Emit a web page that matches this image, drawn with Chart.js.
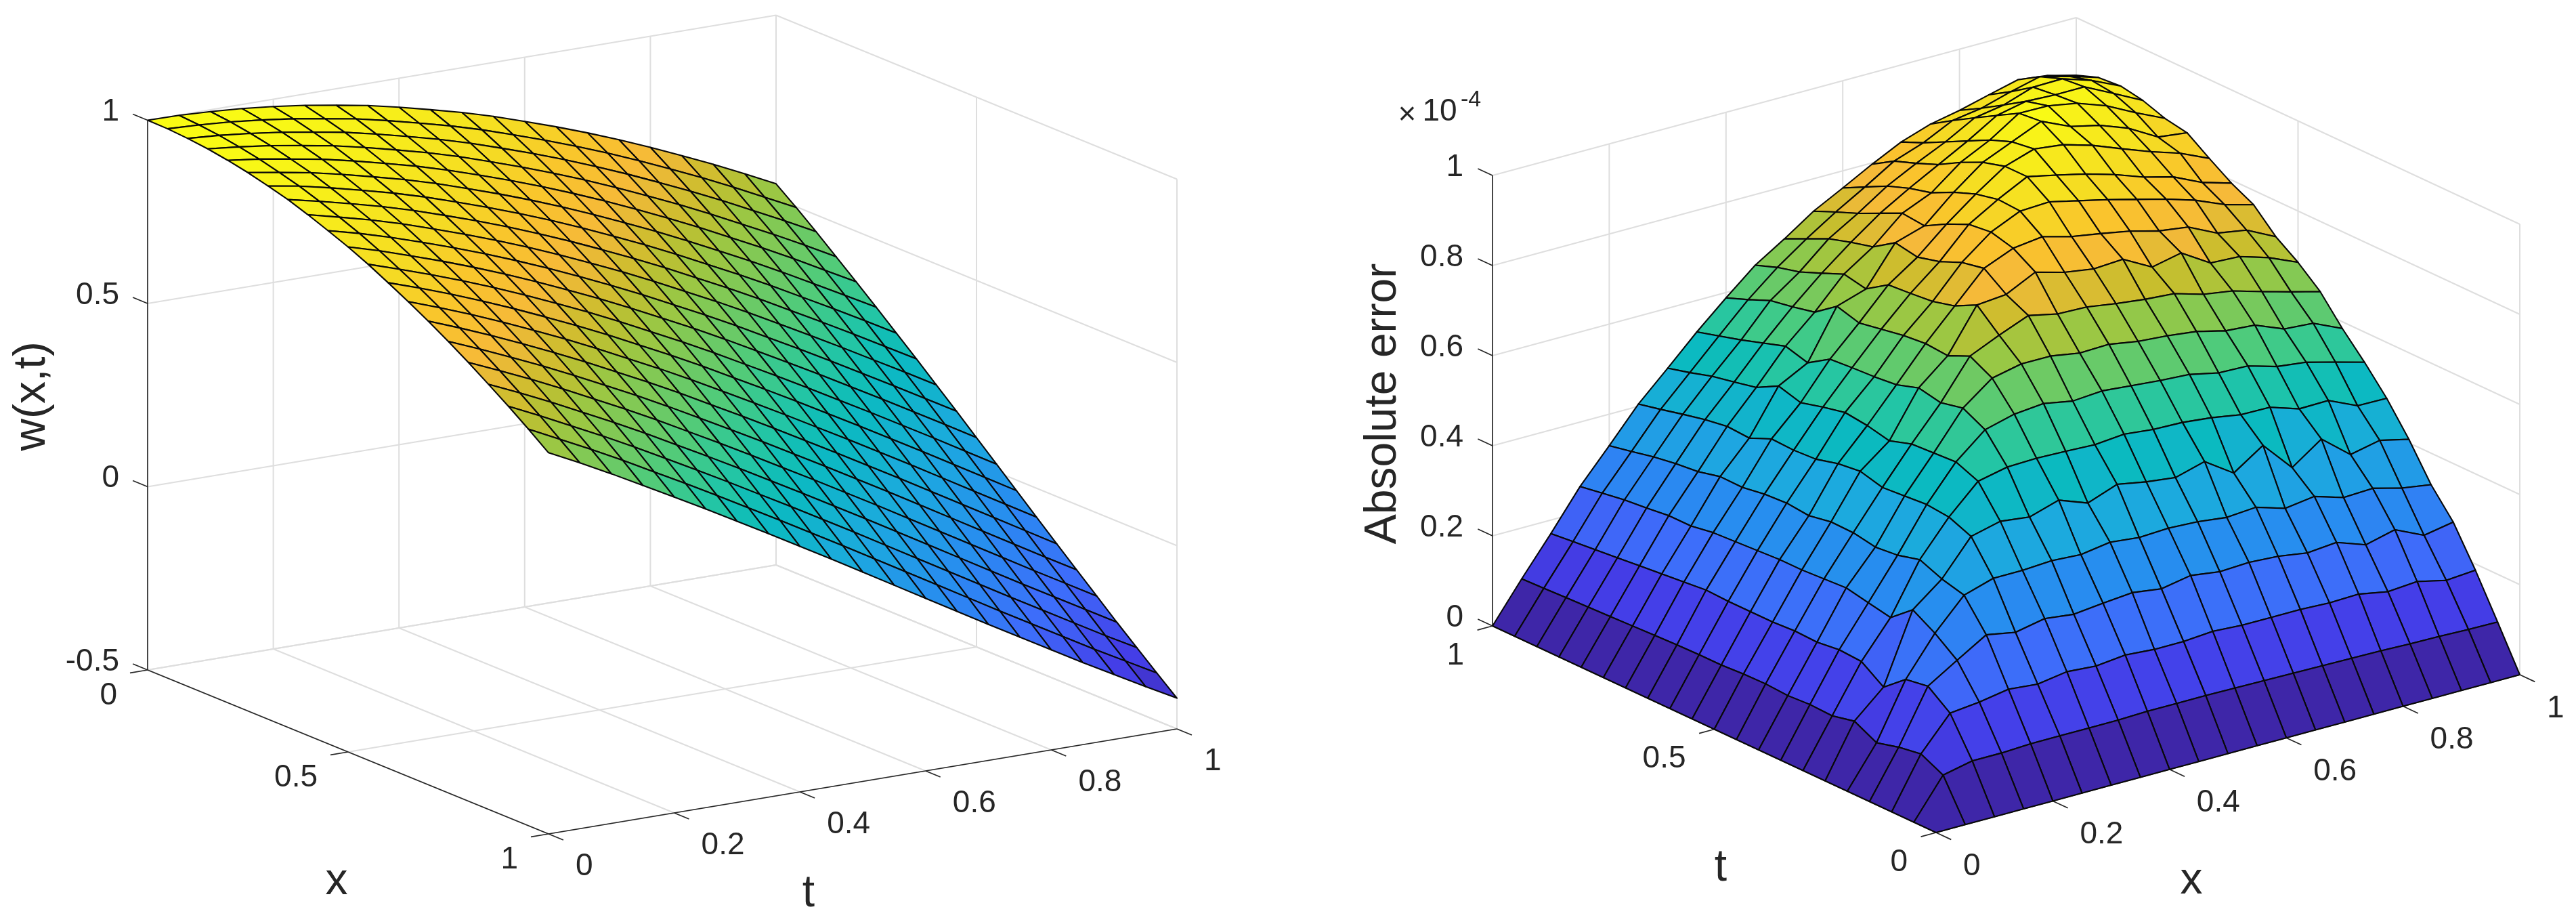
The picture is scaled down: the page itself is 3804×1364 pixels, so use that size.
<!DOCTYPE html>
<html><head><meta charset="utf-8">
<style>html,body{margin:0;padding:0;background:#fff;width:3804px;height:1364px;overflow:hidden}
canvas{position:absolute;top:0}</style>
<script src="https://cdn.jsdelivr.net/npm/chart.js@4/dist/chart.umd.min.js"></script>
</head><body>
<canvas id="left" width="1900" height="1364" style="left:0;width:1900px;height:1364px"></canvas>
<canvas id="right" width="1904" height="1364" style="left:1900px;width:1904px;height:1364px"></canvas>
<script>
const gridX=[0,.05,.1,.15,.2,.25,.3,.35,.4,.45,.5,.55,.6,.65,.7,.75,.8,.85,.9,.95,1];
const gridT=[0,.05,.1,.15,.2,.25,.3,.35,.4,.45,.5,.55,.6,.65,.7,.75,.8,.85,.9,.95,1];

// w(x,t): one row per x, one column per t
const wValues=[
[1,.999,.995,.989,.98,.969,.955,.94,.921,.9,.878,.853,.825,.796,.765,.732,.697,.66,.622,.582,.54],
[.999,.995,.989,.98,.969,.955,.94,.921,.9,.878,.853,.825,.796,.765,.732,.697,.66,.622,.582,.54,.498],
[.995,.989,.98,.969,.955,.94,.921,.9,.878,.853,.825,.796,.765,.732,.697,.66,.622,.582,.54,.498,.454],
[.989,.98,.969,.955,.94,.921,.9,.878,.853,.825,.796,.765,.732,.697,.66,.622,.582,.54,.498,.454,.408],
[.98,.969,.955,.94,.921,.9,.878,.853,.825,.796,.765,.732,.697,.66,.622,.582,.54,.498,.454,.408,.362],
[.969,.955,.94,.921,.9,.878,.853,.825,.796,.765,.732,.697,.66,.622,.582,.54,.498,.454,.408,.362,.315],
[.955,.94,.921,.9,.878,.853,.825,.796,.765,.732,.697,.66,.622,.582,.54,.498,.454,.408,.362,.315,.267],
[.94,.921,.9,.878,.853,.825,.796,.765,.732,.697,.66,.622,.582,.54,.498,.454,.408,.362,.315,.267,.219],
[.921,.9,.878,.853,.825,.796,.765,.732,.697,.66,.622,.582,.54,.498,.454,.408,.362,.315,.267,.219,.17],
[.9,.878,.853,.825,.796,.765,.732,.697,.66,.622,.582,.54,.498,.454,.408,.362,.315,.267,.219,.17,.121],
[.878,.853,.825,.796,.765,.732,.697,.66,.622,.582,.54,.498,.454,.408,.362,.315,.267,.219,.17,.121,.071],
[.853,.825,.796,.765,.732,.697,.66,.622,.582,.54,.498,.454,.408,.362,.315,.267,.219,.17,.121,.071,.021],
[.825,.796,.765,.732,.697,.66,.622,.582,.54,.498,.454,.408,.362,.315,.267,.219,.17,.121,.071,.021,-.029],
[.796,.765,.732,.697,.66,.622,.582,.54,.498,.454,.408,.362,.315,.267,.219,.17,.121,.071,.021,-.029,-.079],
[.765,.732,.697,.66,.622,.582,.54,.498,.454,.408,.362,.315,.267,.219,.17,.121,.071,.021,-.029,-.079,-.129],
[.732,.697,.66,.622,.582,.54,.498,.454,.408,.362,.315,.267,.219,.17,.121,.071,.021,-.029,-.079,-.129,-.178],
[.697,.66,.622,.582,.54,.498,.454,.408,.362,.315,.267,.219,.17,.121,.071,.021,-.029,-.079,-.129,-.178,-.227],
[.66,.622,.582,.54,.498,.454,.408,.362,.315,.267,.219,.17,.121,.071,.021,-.029,-.079,-.129,-.178,-.227,-.276],
[.622,.582,.54,.498,.454,.408,.362,.315,.267,.219,.17,.121,.071,.021,-.029,-.079,-.129,-.178,-.227,-.276,-.323],
[.582,.54,.498,.454,.408,.362,.315,.267,.219,.17,.121,.071,.021,-.029,-.079,-.129,-.178,-.227,-.276,-.323,-.37],
[.54,.498,.454,.408,.362,.315,.267,.219,.17,.121,.071,.021,-.029,-.079,-.129,-.178,-.227,-.276,-.323,-.37,-.416]
];

// absolute error in units of 1e-4: one row per x, one column per t
const errorValues=[
[0,0,0,0,0,0,0,0,0,0,0,0,0,0,0,0,0,0,0,0,0],
[0,.087,.111,.103,.09,.115,.104,.106,.103,.106,.105,.102,.102,.101,.099,.097,.095,.093,.091,.089,.087],
[0,.101,.184,.221,.213,.173,.207,.21,.204,.206,.203,.203,.203,.205,.2,.195,.19,.185,.18,.175,.17],
[0,.101,.191,.261,.298,.327,.287,.297,.307,.304,.301,.301,.298,.295,.292,.284,.284,.278,.273,.265,.257],
[0,.104,.202,.3,.365,.378,.398,.385,.38,.389,.39,.381,.386,.383,.375,.376,.364,.359,.351,.34,.33],
[0,.104,.196,.288,.385,.455,.475,.48,.476,.472,.485,.479,.466,.463,.465,.444,.447,.439,.428,.416,.405],
[0,.104,.206,.301,.385,.471,.537,.557,.554,.551,.535,.546,.552,.541,.528,.542,.516,.505,.495,.48,.467],
[0,.104,.201,.293,.389,.463,.551,.611,.636,.625,.635,.619,.614,.611,.607,.576,.59,.574,.558,.544,.53],
[0,.106,.208,.3,.385,.483,.553,.628,.685,.711,.689,.693,.688,.679,.67,.684,.648,.637,.628,.607,.588],
[0,.106,.203,.306,.395,.459,.551,.634,.699,.74,.784,.759,.746,.741,.737,.705,.715,.694,.674,.661,.643],
[0,.106,.203,.297,.388,.483,.548,.622,.699,.766,.79,.825,.815,.794,.781,.79,.758,.745,.73,.707,.684],
[0,.105,.208,.309,.391,.471,.554,.627,.688,.752,.822,.852,.865,.859,.837,.81,.815,.792,.769,.749,.728],
[0,.104,.204,.3,.388,.463,.547,.621,.69,.75,.804,.86,.894,.897,.886,.867,.843,.83,.812,.787,.762],
[0,.103,.204,.303,.38,.481,.545,.615,.679,.74,.794,.843,.897,.93,.93,.916,.893,.865,.845,.827,.797],
[0,.102,.204,.299,.385,.438,.538,.611,.674,.732,.798,.832,.882,.916,.951,.944,.925,.9,.875,.85,.829],
[0,.101,.201,.289,.365,.482,.527,.597,.666,.727,.763,.82,.867,.901,.943,.972,.967,.939,.911,.882,.851],
[0,.1,.203,.295,.374,.415,.526,.595,.65,.708,.777,.803,.85,.882,.924,.943,.966,.953,.922,.892,.864],
[0,.098,.191,.272,.354,.461,.505,.576,.645,.698,.737,.794,.833,.859,.899,.928,.954,.95,.944,.911,.881],
[0,.097,.196,.288,.357,.409,.506,.568,.619,.679,.734,.763,.813,.842,.875,.904,.931,.95,.945,.927,.897],
[0,.095,.181,.258,.34,.423,.477,.551,.614,.661,.714,.752,.786,.812,.854,.867,.898,.918,.924,.91,.889],
[0,.094,.186,.27,.33,.408,.476,.533,.585,.644,.686,.72,.768,.793,.825,.859,.868,.885,.894,.89,.872]
];

const leftXTicks=[0,.5,1], leftTTicks=[0,.2,.4,.6,.8,1], leftZTicks=[-.5,0,.5,1];
const leftXLabels=['0','0.5','1'], leftTLabels=['0','0.2','0.4','0.6','0.8','1'], leftZLabels=['-0.5','0','0.5','1'];
const rightXTicks=[0,.2,.4,.6,.8,1], rightTTicks=[0,.5,1], rightZTicks=[0,.2,.4,.6,.8,1];
const rightXLabels=['0','0.2','0.4','0.6','0.8','1'], rightTLabels=['0','0.5','1'], rightZLabels=['0','0.2','0.4','0.6','0.8','1'];

const parula=[[0,62,38,168],[.1,68,62,232],[.2,62,108,250],[.3,40,140,240],[.4,28,170,222],[.5,10,187,190],[.55,35,197,165],[.6,70,203,130],[.7,150,200,70],[.75,200,190,45],[.8,245,185,58],[.85,250,195,45],[.9,245,220,35],[1,249,251,20]];
function colour(c){c=Math.max(0,Math.min(1,c));
  for(let k=1;k<parula.length;k++){if(c<=parula[k][0]){const a=parula[k-1],b=parula[k],f=(c-a[0])/(b[0]-a[0]);
    return `rgb(${[1,2,3].map(n=>Math.round(a[n]+(b[n]-a[n])*f)).join(',')})`;}}
  return 'rgb(249,251,20)';}

const GRID='rgb(222,222,222)', AXIS='rgb(38,38,38)', MESH='rgb(8,8,8)', FONT='"Liberation Sans", Arial, sans-serif';

const polyFill={id:'polyFill',beforeDatasetDraw(chart,args){
  const ds=chart.data.datasets[args.index]; if(!ds.polygon)return;
  const pts=args.meta.data, ctx=chart.ctx; ctx.save(); ctx.beginPath();
  pts.forEach((p,i)=>i?ctx.lineTo(p.x,p.y):ctx.moveTo(p.x,p.y)); ctx.closePath();
  ctx.fillStyle=ds.polygon; ctx.fill(); ctx.restore();}};
const textLayer={id:'textLayer',afterDatasetsDraw(chart,a,opts){
  const ctx=chart.ctx, sx=chart.scales.x, sy=chart.scales.y; ctx.save();
  (opts.items||[]).forEach(t=>{ctx.save();ctx.font=`${t.size}px ${FONT}`;ctx.fillStyle=t.color||'rgb(38,38,38)';
    ctx.textAlign=t.align||'center';ctx.textBaseline='middle';
    ctx.translate(sx.getPixelForValue(t.x)+(t.dx||0),sy.getPixelForValue(t.y)+(t.dy||0));
    if(t.rot)ctx.rotate(t.rot);ctx.fillText(t.text,0,0);ctx.restore();});
  ctx.restore();}};

function buildChart(id,width,view,cfg){
  const P=(x,t,z)=>({x:view.o[0]+x*view.vx[0]+t*view.vt[0], y:view.o[1]+x*view.vx[1]+t*view.vt[1]+(z-view.z0)*view.vz});
  const sets=[];
  const line=(pts,color,w)=>sets.push({data:pts,borderColor:color,borderWidth:w,showLine:true,pointRadius:0,fill:false,tension:0});
  cfg.grid(P,line);
  cfg.axes(P,line);
  const Z=cfg.values,zmin=cfg.clim[0],zmax=cfg.clim[1];
  cfg.order((i,j)=>{
    const x0=gridX[i],x1=gridX[i+1],t0=gridT[j],t1=gridT[j+1];
    sets.push({data:[P(x0,t0,Z[i][j]),P(x1,t0,Z[i+1][j]),P(x1,t1,Z[i+1][j+1]),P(x0,t1,Z[i][j+1]),P(x0,t0,Z[i][j])],
      borderColor:MESH,borderWidth:cfg.mesh,borderJoinStyle:'round',showLine:true,pointRadius:0,fill:false,tension:0,
      polygon:colour((Z[i][j]-zmin)/(zmax-zmin))});
  });
  sets.forEach((s,k)=>s.order=sets.length-k);
  return new Chart(document.getElementById(id),{type:'scatter',data:{datasets:sets},
    options:{responsive:false,animation:false,devicePixelRatio:1,layout:{padding:0},events:[],
      scales:{x:{type:'linear',display:false,min:0,max:width},y:{type:'linear',display:false,reverse:true,min:0,max:1364}},
      plugins:{legend:{display:false},tooltip:{enabled:false},textLayer:{items:cfg.texts(P)}}},
    plugins:[polyFill,textLayer]});
}

const TICK=46, LAB=66;
const viewL={o:[218,989],vx:[592,242],vt:[928,-155],vz:-541,z0:-.5};
buildChart('left',1900,viewL,{values:wValues,clim:[-.416,1],mesh:2.1,
  grid(P,L){
    leftZTicks.forEach(z=>{L([P(0,0,z),P(0,1,z)],GRID,2);L([P(0,1,z),P(1,1,z)],GRID,2);});
    leftTTicks.forEach(t=>{L([P(0,t,-.5),P(1,t,-.5)],GRID,2);if(t>0)L([P(0,t,-.5),P(0,t,1)],GRID,2);});
    leftXTicks.forEach(x=>{L([P(x,0,-.5),P(x,1,-.5)],GRID,2);if(x>0)L([P(x,1,-.5),P(x,1,1)],GRID,2);});
  },
  axes(P,L){
    L([P(0,0,-.5),P(0,0,1)],AXIS,1.7);L([P(0,0,-.5),P(1,0,-.5)],AXIS,1.7);L([P(1,0,-.5),P(1,1,-.5)],AXIS,1.7);
    leftZTicks.forEach(z=>L([P(0,0,z),P(-.037,0,z)],AXIS,1.7));
    leftXTicks.forEach(x=>L([P(x,0,-.5),P(x,-.028,-.5)],AXIS,1.7));
    leftTTicks.forEach(t=>L([P(1,t,-.5),P(1.037,t,-.5)],AXIS,1.7));
  },
  order(cell){for(let i=0;i<20;i++)for(let j=19;j>=0;j--)cell(i,j);},
  texts(P){const out=[];
    leftZTicks.forEach((z,k)=>{const p=P(0,0,z);out.push({text:leftZLabels[k],x:p.x,y:p.y,dx:-42,dy:-12,align:'right',size:TICK});});
    leftXTicks.forEach((v,k)=>{const p=P(v,0,-.5);out.push({text:leftXLabels[k],x:p.x,y:p.y,dx:-45,dy:38,align:'right',size:TICK});});
    leftTTicks.forEach((v,k)=>{const p=P(1,v,-.5);out.push({text:leftTLabels[k],x:p.x,y:p.y,dx:40,dy:48,align:'left',size:TICK});});
    out.push({text:'x',x:497,y:1302,size:LAB},{text:'t',x:1194,y:1320,size:LAB},{text:'w(x,t)',x:48,y:585,size:LAB,rot:-Math.PI/2});
    return out;}
});

const viewR={o:[959,1229],vx:[862,-233],vt:[-655,-305],vz:-665,z0:0};
buildChart('right',1904,viewR,{values:errorValues,clim:[0,.976],mesh:2.1,
  grid(P,L){
    rightZTicks.forEach(z=>{L([P(0,1,z),P(1,1,z)],GRID,2);L([P(1,1,z),P(1,0,z)],GRID,2);});
    rightXTicks.forEach(x=>{L([P(x,0,0),P(x,1,0)],GRID,2);if(x>0)L([P(x,1,0),P(x,1,1)],GRID,2);});
    rightTTicks.forEach(t=>{L([P(0,t,0),P(1,t,0)],GRID,2);L([P(1,t,0),P(1,t,1)],GRID,2);});
  },
  axes(P,L){
    L([P(0,1,0),P(0,1,1)],AXIS,1.7);L([P(0,0,0),P(0,1,0)],AXIS,1.7);L([P(0,0,0),P(1,0,0)],AXIS,1.7);
    rightZTicks.forEach(z=>L([P(0,1,z),P(0,1.033,z)],AXIS,1.7));
    rightTTicks.forEach(t=>L([P(0,t,0),P(-.026,t,0)],AXIS,1.7));
    rightXTicks.forEach(x=>L([P(x,0,0),P(x,-.034,0)],AXIS,1.7));
  },
  order(cell){for(let i=19;i>=0;i--)for(let j=19;j>=0;j--)cell(i,j);},
  texts(P){const out=[];
    rightZTicks.forEach((z,k)=>{const p=P(0,1,z);out.push({text:rightZLabels[k],x:p.x,y:p.y,dx:-43,dy:-12,align:'right',size:TICK});});
    rightTTicks.forEach((v,k)=>{const p=P(0,v,0);out.push({text:rightTLabels[k],x:p.x,y:p.y,dx:-42,dy:44,align:'right',size:TICK});});
    rightXTicks.forEach((v,k)=>{const p=P(v,0,0);out.push({text:rightXLabels[k],x:p.x,y:p.y,dx:40,dy:50,align:'left',size:TICK});});
    out.push({text:'t',x:641,y:1282,size:LAB},{text:'x',x:1336,y:1301,size:LAB},{text:'Absolute error',x:143,y:596,size:LAB,rot:-Math.PI/2});
    out.push({text:'×',x:178,y:170,size:46},{text:'10',x:226,y:165,size:46},{text:'-4',x:272,y:148,size:34});
    return out;}
});
</script>
</body></html>
